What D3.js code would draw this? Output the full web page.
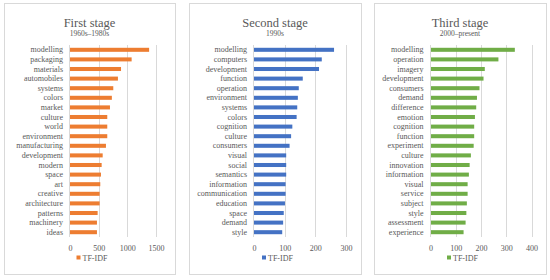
<!DOCTYPE html>
<html>
<head>
<meta charset="utf-8">
<style>
body { margin: 0; background: #fff; }
text { font-family: "Liberation Serif", "Times New Roman", serif; fill: #595959; }
</style>
</head>
<body>
<script src="https://cdn.jsdelivr.net/npm/d3@7/dist/d3.min.js"></script>
<script>
// stage 1: 1960s-1980s
var terms1 = ["modelling","packaging","materials","automobiles","systems","colors","market","culture","world","environment","manufacturing","development","modern","space","art","creative","architecture","patterns","machinery","ideas"];
var values1 = [1380,1075,890,836,755,730,697,650,650,650,627,570,552,540,528,517,517,482,470,470];
var ticks1 = [0,500,1000,1500];

// stage 2: 1990s
var terms2 = ["modelling","computers","development","function","operation","environment","systems","colors","cognition","culture","consumers","visual","social","semantics","information","communication","education","space","demand","style"];
var values2 = [261,221,212,159,146,143,141,139,125,121,116,105,105,105,103,103,101,97,95,92];
var ticks2 = [0,100,200,300];

// stage 3: 2000-present
var terms3 = ["modelling","operation","imagery","development","consumers","demand","difference","emotion","cognition","function","experiment","culture","innovation","information","visual","service","subject","style","assessment","experience"];
var values3 = [334,269,215,210,194,184,181,176,173,173,171,160,155,152,147,147,144,142,139,131];
var ticks3 = [0,100,200,300,400];

var titles = ["First stage","Second stage","Third stage"];
var subtitles = ["1960s\u20131980s","1990s","2000\u2013present"];
var colors = ["#ED7D31","#4472C4","#70AD47"];

var svg = d3.select("body").append("svg").attr("width",550).attr("height",280);

function panel(i, terms, values, ticks, box, x0, x1){
  var g = svg.append("g");
  g.append("rect").attr("x",box[0]+0.5).attr("y",3.5).attr("width",box[1]-box[0]).attr("height",271)
    .attr("fill","#fff").attr("stroke","#d9d9d9");
  var cx = (box[0]+box[1])/2;
  g.append("text").attr("x",cx).attr("y",27).attr("text-anchor","middle")
    .style("font-size","12.5px").text(titles[i]);
  g.append("text").attr("x",cx).attr("y",36).attr("text-anchor","middle")
    .style("font-size","7.5px").text(subtitles[i]);

  var x = d3.scaleLinear().domain([0, ticks[ticks.length-1]]).range([x0, x1]);
  var y = d3.scaleBand().domain(terms).range([45, 237]).paddingInner(0.58).paddingOuter(0.29);

  // grid
  g.selectAll(".grid").data(ticks.slice(1)).enter().append("line")
    .attr("x1",function(d){return Math.round(x(d))+0.5;}).attr("x2",function(d){return Math.round(x(d))+0.5;})
    .attr("y1",45).attr("y2",237).attr("stroke","#d9d9d9");

  g.selectAll(".bar").data(values).enter().append("rect")
    .attr("x",x(0)).attr("y",function(d,j){return y(terms[j]);})
    .attr("width",function(d){return x(d)-x(0);}).attr("height",y.bandwidth())
    .attr("fill",colors[i]);

  g.append("line").attr("x1",Math.round(x(0))-0.5).attr("x2",Math.round(x(0))-0.5)
    .attr("y1",45).attr("y2",237).attr("stroke","#d9d9d9");

  var yAxis = d3.axisLeft(y).tickSize(0).tickPadding(7);
  var ya = g.append("g").attr("transform","translate("+x(0)+",0)").call(yAxis);
  ya.select(".domain").remove();
  ya.selectAll("text").style("font-size","8px").style("fill","#595959")
    .style("font-family","'Liberation Serif', serif");

  var xAxis = d3.axisBottom(x).tickValues(ticks).tickFormat(d3.format("d")).tickSize(0).tickPadding(5);
  var xa = g.append("g").attr("transform","translate(0,240)").call(xAxis);
  xa.select(".domain").remove();
  xa.selectAll("text").style("font-size","8px").style("fill","#595959")
    .style("font-family","'Liberation Serif', serif");

  // legend
  var lg = g.append("g").attr("transform","translate("+(cx-13)+",258)");
  lg.append("rect").attr("x",0).attr("y",-2.5).attr("width",4).attr("height",4).attr("fill",colors[i]);
  lg.append("text").attr("x",6).attr("y",3).style("font-size","8px").text("TF-IDF");
}

panel(0, terms1, values1, ticks1, [4,175], 70, 156);
panel(1, terms2, values2, ticks2, [189,361], 254, 346);
panel(2, terms3, values3, ticks3, [374,546], 430.5, 531.5);
</script>
</body>
</html>
